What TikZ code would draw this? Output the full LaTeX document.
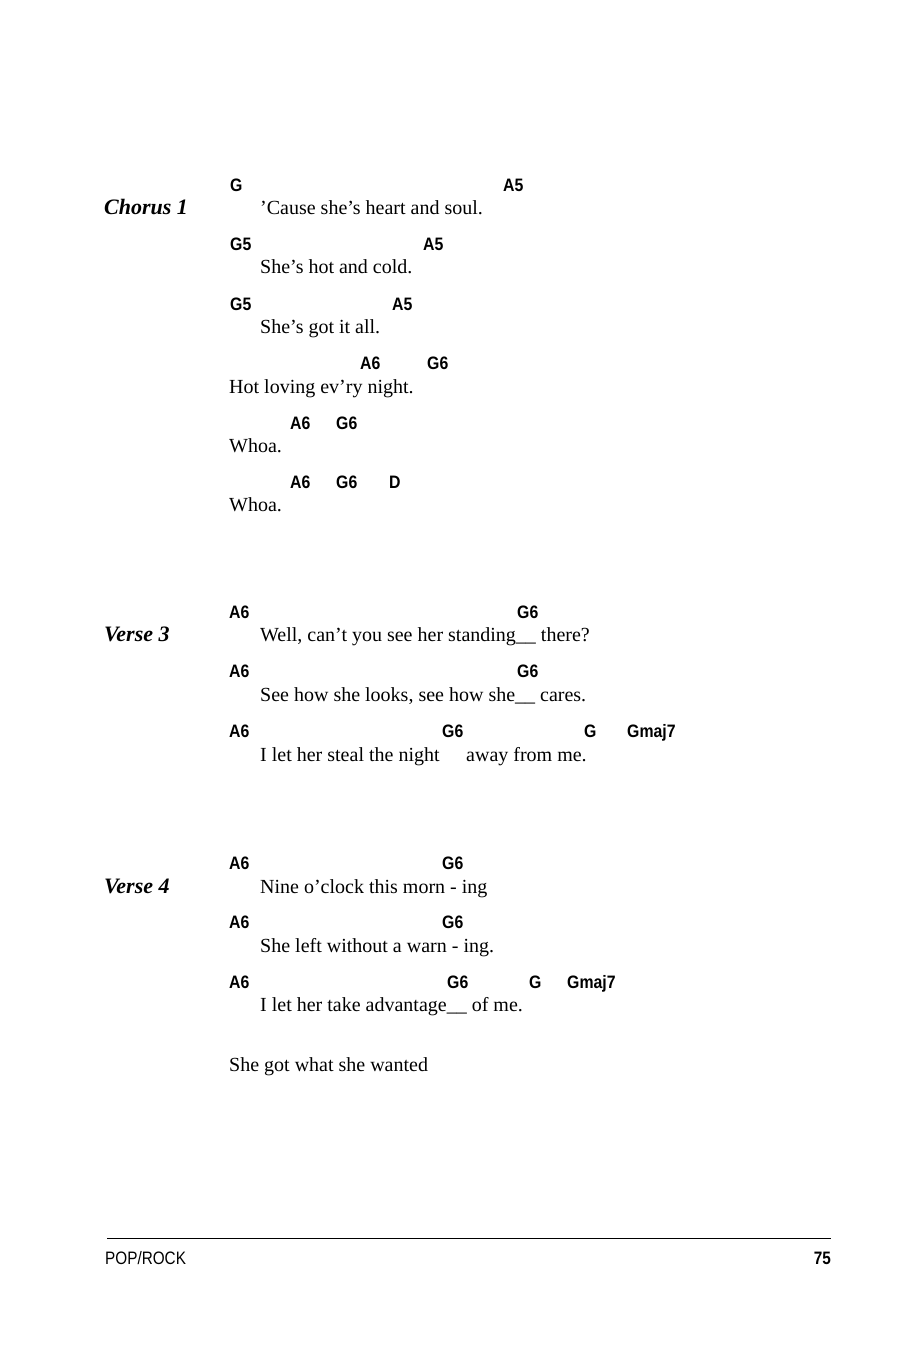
\documentclass[tikz,border=0pt]{standalone}
\usepackage{fontspec}
\setmainfont{Liberation Serif}
\newfontfamily\chordfont{Liberation Sans}[FakeStretch=0.88]
\newfontfamily\footfont{Liberation Sans}[FakeStretch=0.85]
\begin{document}
\begin{tikzpicture}[x=1pt,y=-1pt,
  ly/.style={anchor=base west,inner sep=0pt,font=\fontsize{20}{22}\selectfont,yshift=-7pt},
  ch/.style={anchor=base west,inner sep=0pt,font=\chordfont\bfseries\fontsize{18}{20}\selectfont,yshift=-7pt},
  sec/.style={anchor=base west,inner sep=0pt,font=\bfseries\itshape\fontsize{22}{24}\selectfont,yshift=-7pt}]
\useasboundingbox (0,0) rectangle (900,1350);
\node[sec] (c1) at (104,207) {Chorus 1};
\node[ch] (a1) at (230,184) {G};
\node[ch] (a2) at (503,184) {A5};
\node[ly] (l1) at (260,207) {’Cause she’s heart and soul.};
\node[ch] (b1) at (230,243) {G5};
\node[ch] (b2) at (423,243) {A5};
\node[ly] (l2) at (260,266) {She’s hot and cold.};
\node[ch] (c1a) at (230,303) {G5};
\node[ch] (c2) at (392,303) {A5};
\node[ly] (l3) at (260,326) {She’s got it all.};
\node[ch] (d1) at (360,362) {A6};
\node[ch] (d2) at (427,362) {G6};
\node[ly] (l4) at (229,386) {Hot loving ev’ry night.};
\node[ch] (e1) at (290,422) {A6};
\node[ch] (e2) at (336,422) {G6};
\node[ly] (l5) at (229,445) {Whoa.};
\node[ch] (f1) at (290,481) {A6};
\node[ch] (f2) at (336,481) {G6};
\node[ch] (f3) at (389,481) {D};
\node[ly] (l6) at (229,504) {Whoa.};
\node[sec] (v3) at (104,634) {Verse 3};
\node[ch] (g1) at (229,611) {A6};
\node[ch] (g2) at (517,611) {G6};
\node[ly] (l7) at (260,634) {Well, can’t you see her standing\_\_ there?};
\node[ch] (h1) at (229,670) {A6};
\node[ch] (h2) at (517,670) {G6};
\node[ly] (l8) at (260,694) {See how she looks, see how she\_\_ cares.};
\node[ch] (i1) at (229,730) {A6};
\node[ch] (i2) at (442,730) {G6};
\node[ch] (i3) at (584,730) {G};
\node[ch] (i4) at (627,730) {Gmaj7};
\node[ly] (l9) at (260,754) {I let her steal the night};
\node[ly] (l9b) at (466,754) {away from me.};
\node[sec] (v4) at (104,886) {Verse 4};
\node[ch] (j1) at (229,862) {A6};
\node[ch] (j2) at (442,862) {G6};
\node[ly] (l10) at (260,886) {Nine o’clock this morn - ing};
\node[ch] (k1) at (229,921) {A6};
\node[ch] (k2) at (442,921) {G6};
\node[ly] (l11) at (260,945) {She left without a warn - ing.};
\node[ch] (m1) at (229,981) {A6};
\node[ch] (m2) at (447,981) {G6};
\node[ch] (m3) at (529,981) {G};
\node[ch] (m4) at (567,981) {Gmaj7};
\node[ly] (l12) at (260,1004) {I let her take advantage\_\_ of me.};
\node[ly] (l13) at (229,1064) {She got what she wanted};
\draw[line width=0.8pt] (107,1238) -- (831,1238);
\node[anchor=base west,inner sep=0pt,font=\footfont\fontsize{18}{20}\selectfont,yshift=-7pt] (ft) at (105,1257) {POP/ROCK};
\node[anchor=base east,inner sep=0pt,font=\footfont\bfseries\fontsize{18}{20}\selectfont,yshift=-7pt] (pg) at (831,1257) {75};
\end{tikzpicture}
\end{document}
